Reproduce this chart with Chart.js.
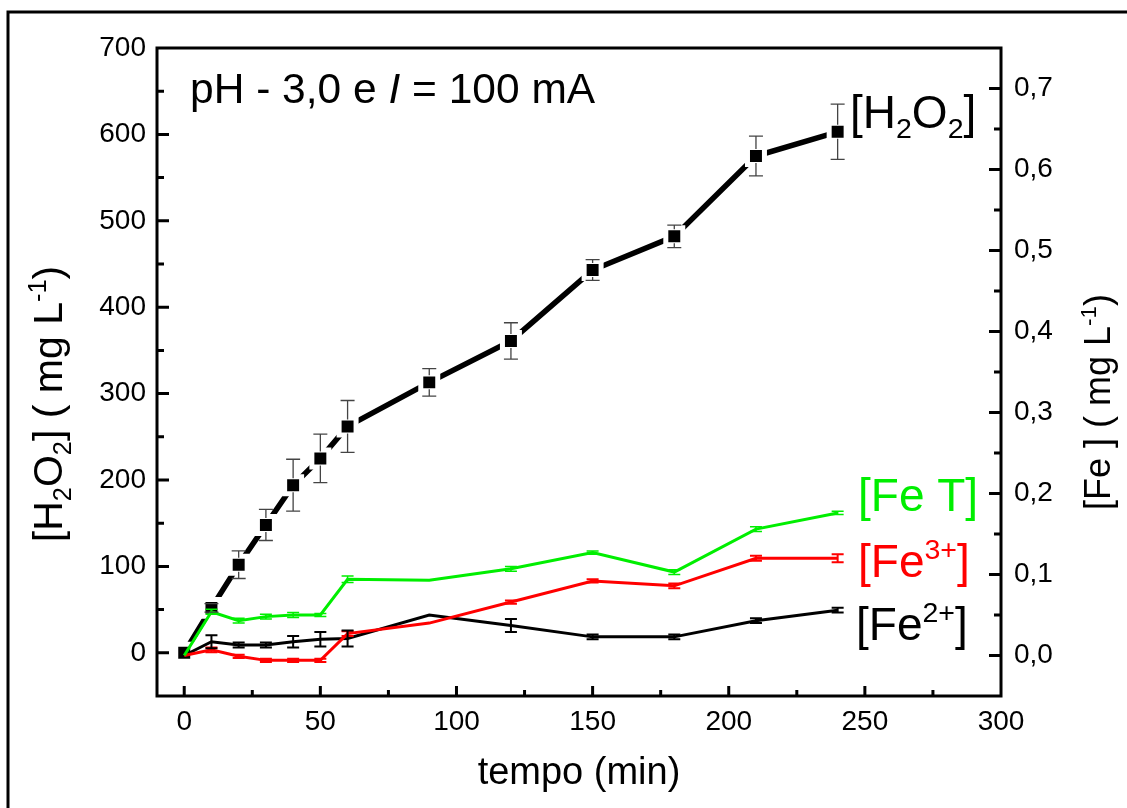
<!DOCTYPE html>
<html lang="pt">
<head>
<meta charset="UTF-8">
<title>H2O2 e Fe - pH 3,0</title>
<script src="https://cdn.jsdelivr.net/npm/chart.js@4.4.1/dist/chart.umd.min.js"></script>
<style>
  html, body { margin: 0; padding: 0; background: #fff; }
</style>
</head>
<body>
<canvas id="grafico" width="1127" height="808"></canvas>
<script>
// tempo (min) e concentrações medidas
const tempo = [0, 10, 20, 30, 40, 50, 60, 90, 120, 150, 180, 210, 240];
const h2o2 = [0, 52, 102, 148, 194, 225, 262, 313, 361, 443, 482, 575, 603];
const h2o2Err = [0, 5, 16, 18, 30, 28, 30, 16, 21, 12, 13, 23, 32];
const feT = [0, 0.054, 0.043, 0.048, 0.050, 0.050, 0.094, 0.093, 0.107, 0.127, 0.103, 0.156, 0.176];
const feTErr = [0, 0.003, 0.003, 0.003, 0.003, 0.002, 0.004, 0, 0.003, 0.002, 0.003, 0.003, 0.002];
const fe3 = [0, 0.007, -0.001, -0.006, -0.006, -0.006, 0.027, 0.040, 0.066, 0.092, 0.086, 0.120, 0.120];
const fe3Err = [0, 0.003, 0.002, 0.002, 0.002, 0.002, 0.003, 0, 0.002, 0.002, 0.003, 0.003, 0.005];
const fe2 = [0, 0.017, 0.013, 0.013, 0.017, 0.020, 0.021, 0.050, 0.037, 0.023, 0.023, 0.043, 0.056];
const fe2Err = [0, 0.008, 0.003, 0.003, 0.007, 0.009, 0.010, 0, 0.008, 0.003, 0.003, 0.003, 0.003];

const FONT = '"Liberation Sans", Arial, sans-serif';
const VERDE = '#00ee00';
const VERMELHO = '#ff0000';

const pts = (ys) => tempo.map((t, i) => ({x: t, y: ys[i]}));

// texto com sub/sobrescrito: partes [texto, tipo] (s = sub, p = sup, i = itálico)
const fontOf = (kind, size) => {
    const sz = (kind === 's' || kind === 'p') ? size * 0.62 : size;
    return (kind === 'i' ? 'italic ' : '') + sz + 'px ' + FONT;
};
const richWidth = (ctx, parts, size) => parts.reduce((w, [t, k]) => {
    ctx.font = fontOf(k, size);
    return w + ctx.measureText(t).width;
}, 0);
const drawRich = (ctx, parts, x, y, size, color, align) => {
    ctx.save();
    ctx.fillStyle = color;
    ctx.textBaseline = 'alphabetic';
    ctx.textAlign = 'left';
    let cx = x;
    if (align === 'center') cx -= richWidth(ctx, parts, size) / 2;
    parts.forEach(([t, k]) => {
        ctx.font = fontOf(k, size);
        let dy = 0;
        if (k === 's') dy = size * 0.22;
        if (k === 'p') dy = -size * 0.4;
        ctx.fillText(t, cx, y + dy);
        cx += ctx.measureText(t).width;
    });
    ctx.restore();
};

// barras de erro, desenhadas depois das linhas
const errorBars = {
    id: 'errorBars',
    afterDatasetsDraw(chart) {
        const ctx = chart.ctx;
        chart.data.datasets.forEach((ds, i) => {
            if (!ds.erros) return;
            const meta = chart.getDatasetMeta(i);
            const ys = chart.scales[meta.yAxisID];
            ctx.save();
            ctx.strokeStyle = ds.corErro;
            ctx.lineWidth = ds.largErro;
            meta.data.forEach((pt, j) => {
                const e = ds.erros[j];
                if (!e) return;
                const v = ds.data[j].y;
                const top = ys.getPixelForValue(v + e);
                const bot = ys.getPixelForValue(v - e);
                const x = pt.x;
                const gap = ds.vaoErro || 0;
                const c = ds.capErro;
                ctx.beginPath();
                if (gap && bot - top > gap * 2) {
                    ctx.moveTo(x, top); ctx.lineTo(x, pt.y - gap);
                    ctx.moveTo(x, pt.y + gap); ctx.lineTo(x, bot);
                } else if (!gap) {
                    ctx.moveTo(x, top); ctx.lineTo(x, bot);
                }
                ctx.moveTo(x - c, top); ctx.lineTo(x + c, top);
                ctx.moveTo(x - c, bot); ctx.lineTo(x + c, bot);
                ctx.stroke();
            });
            ctx.restore();
        });
    }
};

// moldura, marcas internas dos eixos e textos
const moldura = {
    id: 'moldura',
    afterDraw(chart) {
        const ctx = chart.ctx;
        const a = chart.chartArea;
        const {x, y, y2} = chart.scales;
        ctx.save();
        ctx.strokeStyle = '#000';
        ctx.lineWidth = 3;
        ctx.lineCap = 'butt';

        // borda externa da figura
        ctx.beginPath();
        ctx.moveTo(8, 808); ctx.lineTo(8, 12); ctx.lineTo(1127, 12);
        ctx.stroke();

        ctx.strokeRect(a.left, a.top, a.right - a.left, a.bottom - a.top);

        ctx.beginPath();
        x.ticks.forEach(t => {
            if (t.value % 25 !== 0) return;
            const px = x.getPixelForValue(t.value);
            if (px <= a.left + 2 || px >= a.right - 2) return;
            const len = t.value % 50 === 0 ? 10 : 6;
            ctx.moveTo(px, a.bottom); ctx.lineTo(px, a.bottom - len);
        });
        y.ticks.forEach(t => {
            if (t.value % 50 !== 0) return;
            const py = y.getPixelForValue(t.value);
            if (py <= a.top + 2 || py >= a.bottom - 2) return;
            const len = t.value % 100 === 0 ? 12 : 7;
            ctx.moveTo(a.left, py); ctx.lineTo(a.left + len, py);
        });
        y2.ticks.forEach(t => {
            const r = Math.round(t.value * 100);
            if (r % 5 !== 0) return;
            const py = y2.getPixelForValue(t.value);
            if (py <= a.top + 2 || py >= a.bottom - 2) return;
            const len = r % 10 === 0 ? 12 : 7;
            ctx.moveTo(a.right, py); ctx.lineTo(a.right - len, py);
        });
        ctx.stroke();
        ctx.restore();

        // títulos dos eixos
        drawRich(ctx, [['tempo (min)']], 579, 784, 38, '#000', 'center');
        ctx.save();
        ctx.translate(62, 404);
        ctx.rotate(-Math.PI / 2);
        drawRich(ctx, [['[H'], ['2', 's'], ['O'], ['2', 's'], ['] ( mg L'], ['-1', 'p'], [')']], 0, 0, 41, '#000', 'center');
        ctx.restore();
        ctx.save();
        ctx.translate(1110, 402);
        ctx.rotate(-Math.PI / 2);
        drawRich(ctx, [['[Fe ] ( mg L'], ['-1', 'p'], [')']], 0, 0, 36, '#000', 'center');
        ctx.restore();

        // anotações
        drawRich(ctx, [['pH - 3,0 e '], ['I', 'i'], [' = 100 mA']], 190, 103, 42.5, '#000');
        drawRich(ctx, [['[H'], ['2', 's'], ['O'], ['2', 's'], [']']], 850, 128, 46, '#000');
        drawRich(ctx, [['[Fe T]']], 858, 511, 46, VERDE);
        drawRich(ctx, [['[Fe'], ['3+', 'p'], [']']], 858, 577, 46, VERMELHO);
        drawRich(ctx, [['[Fe'], ['2+', 'p'], [']']], 856, 640, 46, '#000');
    }
};

const tickFont = {family: FONT, size: 28};

new Chart(document.getElementById('grafico'), {
    type: 'line',
    data: {
        datasets: [
            {
                label: 'Fe T', data: pts(feT), yAxisID: 'y2',
                borderColor: VERDE, borderWidth: 3, pointRadius: 0,
                erros: feTErr, corErro: VERDE, largErro: 1.5, capErro: 6
            },
            {
                label: 'Fe3+', data: pts(fe3), yAxisID: 'y2',
                borderColor: VERMELHO, borderWidth: 3, pointRadius: 0,
                erros: fe3Err, corErro: VERMELHO, largErro: 2, capErro: 6
            },
            {
                label: 'Fe2+', data: pts(fe2), yAxisID: 'y2',
                borderColor: '#000', borderWidth: 3, pointRadius: 0,
                erros: fe2Err, corErro: '#000', largErro: 2, capErro: 6
            },
            {
                label: 'H2O2', data: pts(h2o2), yAxisID: 'y',
                borderColor: '#000', borderWidth: 5.5,
                pointStyle: 'rect', pointRadius: 12,
                pointBackgroundColor: '#000', pointBorderColor: '#fff', pointBorderWidth: 5,
                erros: h2o2Err, corErro: '#444', largErro: 1.3, capErro: 7, vaoErro: 7
            }
        ]
    },
    options: {
        responsive: false,
        animation: false,
        devicePixelRatio: 1,
        layout: {padding: {top: 48, left: 0, right: 0, bottom: 0}},
        plugins: {legend: {display: false}, tooltip: {enabled: false}},
        elements: {line: {tension: 0}},
        scales: {
            x: {
                type: 'linear', min: -10, max: 300,
                grid: {display: false, drawTicks: false},
                border: {display: false},
                ticks: {
                    stepSize: 25, autoSkip: false, maxRotation: 0, padding: 9,
                    includeBounds: false,
                    color: '#000', font: tickFont,
                    callback: v => (v % 50 === 0 && v >= 0) ? String(v) : ''
                },
                afterFit: s => { s.height = 112; }
            },
            y: {
                position: 'left', min: -50, max: 700,
                grid: {display: false, drawTicks: false},
                border: {display: false},
                ticks: {
                    stepSize: 50, autoSkip: false, padding: 11,
                    color: '#000', font: tickFont,
                    callback: v => (v % 100 === 0 && v >= 0) ? String(v) : ''
                },
                afterFit: s => { s.width = 157; }
            },
            y2: {
                position: 'right', min: -0.05, max: 0.75,
                grid: {display: false, drawTicks: false},
                border: {display: false},
                ticks: {
                    stepSize: 0.05, autoSkip: false, padding: 13,
                    color: '#000', font: tickFont,
                    callback: v => {
                        const r = Math.round(v * 100);
                        return (r % 10 === 0 && r >= 0) ? (r / 100).toFixed(1).replace('.', ',') : '';
                    }
                },
                afterFit: s => { s.width = 126; }
            }
        }
    },
    plugins: [errorBars, moldura]
});
</script>
</body>
</html>
